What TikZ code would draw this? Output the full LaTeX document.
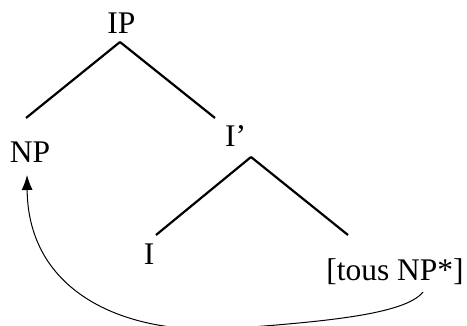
\documentclass[tikz,border=0pt]{standalone}
\usepackage{fontspec}
\setmainfont{Liberation Serif}
\usetikzlibrary{arrows.meta}
\begin{document}
\begin{tikzpicture}[x=1pt,y=-1pt,
  lbl/.style={anchor=base,inner sep=0pt,font=\fontsize{31.5}{36}\selectfont},
  branch/.style={line width=2.2pt},
  move/.style={line width=1pt,-{Latex[length=15pt,width=11pt]}}]
\useasboundingbox (0,0) rectangle (467,326);
\node[lbl] (IP) at (121.5,33.5) {IP};
\node[lbl] (NP) at (30,163) {NP};
\node[lbl] (Ibar) at (235.5,147) {I’};
\node[lbl] (I) at (149,265) {I};
\node[lbl] (tous) at (395,281) {[tous NP*]};
\draw[branch] ([xshift=-1.5pt,yshift=-8.5pt]IP.base) -- ([xshift=-4pt,yshift=45pt]NP.base);
\draw[branch] ([xshift=-1.5pt,yshift=-8.5pt]IP.base) -- ([xshift=-20.5pt,yshift=29pt]Ibar.base);
\draw[branch] ([xshift=15.5pt,yshift=-10pt]Ibar.base) -- ([xshift=7pt,yshift=30pt]I.base);
\draw[branch] ([xshift=15.5pt,yshift=-10pt]Ibar.base) -- ([xshift=-47pt,yshift=46pt]tous.base);
\draw[move] ([xshift=28pt,yshift=-11pt]tous.base)
  .. controls (405,315) and (320,322) .. (225,329)
  .. controls (120,334) and (28,290) .. ([xshift=-3pt,yshift=-12pt]NP.base);
\end{tikzpicture}
\end{document}
